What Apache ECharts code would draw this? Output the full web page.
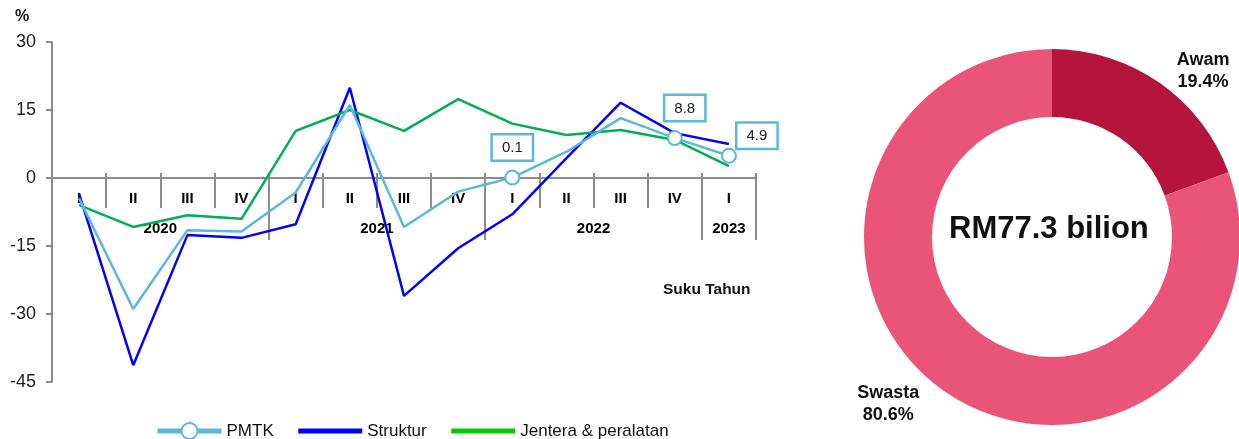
<!DOCTYPE html>
<html>
<head>
<meta charset="utf-8">
<script src="https://cdn.jsdelivr.net/npm/echarts@6/dist/echarts.min.js"></script>
<style>
  html, body { margin: 0; background: #fff; }
  #chart { width: 1239px; height: 439px; }
</style>
</head>
<body>
<div id="chart"></div>
<script>
// data
const quarters = ['I', 'II', 'III', 'IV', 'I', 'II', 'III', 'IV', 'I', 'II', 'III', 'IV', 'I']
const years = ['2020', '2021', '2022', '2023']
const yearQuarters = [4, 4, 4, 1] // how many quarters each year spans
const pmtk = [-4.5, -28.9, -11.5, -11.8, -3.2, 16.1, -10.8, -3.0, 0.1, 5.8, 13.2, 8.8, 4.9]
const struktur = [-3.5, -41.3, -12.6, -13.2, -10.2, 19.9, -26.0, -15.5, -8.0, 4.4, 16.6, 9.9, 7.5]
const jentera = [-6.0, -10.8, -8.2, -9.0, 10.4, 15.0, 10.4, 17.4, 12.0, 9.5, 10.6, 8.4, 2.6]
const labelledPoints = [8, 11, 12] // PMTK points with a boxed value
const yMin = -45
const yMax = 30
const yStep = 15
const shareNames = ['Awam', 'Swasta']
const shareValues = [19.4, 80.6]
const totalText = 'RM77.3 bilion'

const FONT = 'Liberation Sans, Arial, sans-serif'
const GREY = '#8c8c8c'
const LIGHT_BLUE = '#5ab9da'

// plot area of the line chart
const PLOT = { left: 52, right: 483, top: 42, bottom: 57 }
const plotH = 439 - PLOT.top - PLOT.bottom
const zeroY = PLOT.top + plotH * yMax / (yMax - yMin) // where the category axis sits

// year boundaries (quarter index where a year starts) and label positions
const yearStarts = []
const yearMids = []
let acc = 0
yearQuarters.forEach(n => {
  yearStarts.push(acc)
  yearMids.push(acc + n / 2)
  acc += n
})

const labelOffsets = { 8: [0, 0], 11: [10, 0], 12: [28, 10] }

const pmtkData = pmtk.map((v, i) => {
  if (!labelledPoints.includes(i)) return { value: v, symbol: 'none' }
  return {
    value: v,
    label: {
      show: true,
      position: 'top',
      distance: 10,
      offset: labelOffsets[i],
      formatter: '{c}',
      fontFamily: FONT,
      fontSize: 15,
      color: '#222',
      backgroundColor: '#fff',
      borderColor: LIGHT_BLUE,
      borderWidth: 2.5,
      padding: [5, 9, 4, 9],
    },
  }
})

const axisGrey = { color: GREY, width: 2 }

// the category axes live in a thin grid whose bottom edge is the zero line
const catAxis = (extra) => Object.assign({
  type: 'category',
  gridIndex: 1,
  data: quarters,
  position: 'bottom',
  boundaryGap: true,
  axisLine: { show: false, onZero: false },
  axisLabel: { show: false },
  splitLine: { show: false },
}, extra)

const option = {
  animation: false,
  textStyle: { fontFamily: FONT },
  title: [
    {
      text: 'Suku Tahun',
      left: 663,
      top: 282,
      padding: 0,
      textStyle: { fontFamily: FONT, fontSize: 15.5, fontWeight: 'bold', color: '#111' },
    },
    {
      text: totalText,
      left: 949,
      top: 214,
      padding: 0,
      textStyle: { fontFamily: FONT, fontSize: 31, fontWeight: 'bold', color: '#111' },
    },
  ],
  legend: {
    left: 150,
    top: 417,
    itemWidth: 64,
    itemHeight: 20,
    itemGap: 22,
    lineStyle: { width: 5 },
    textStyle: { fontFamily: FONT, fontSize: 17, color: '#111' },
    data: [
      { name: 'PMTK' },
      { name: 'Struktur', itemStyle: { opacity: 0 } },
      { name: 'Jentera & peralatan', itemStyle: { opacity: 0 }, lineStyle: { color: '#00cc00', width: 5 } },
    ],
  },
  grid: [
    PLOT,
    { left: PLOT.left, right: PLOT.right, top: zeroY - 10, bottom: 439 - zeroY },
  ],
  xAxis: [
    {
      // axis carrying the series (hidden, drawn by the axes below)
      type: 'category',
      gridIndex: 0,
      data: quarters,
      boundaryGap: true,
      show: false,
    },
    catAxis({
      axisLine: { show: true, onZero: false, lineStyle: axisGrey },
      axisTick: { show: true, interval: 0, length: 30, lineStyle: axisGrey },
      axisLabel: { show: true, interval: 0, margin: 13, fontFamily: FONT, fontSize: 15, fontWeight: 'bold', color: '#000' },
    }),
    catAxis({
      // long ticks marking the years
      axisTick: {
        show: true,
        length: 62,
        interval: (idx) => yearStarts.includes(idx),
        lineStyle: axisGrey,
      },
    }),
    catAxis({
      // small ticks poking above the zero line
      axisTick: { show: true, inside: true, interval: 0, length: 5, lineStyle: axisGrey },
    }),
    {
      // year names centred on their quarters
      type: 'value',
      gridIndex: 1,
      position: 'bottom',
      min: 0,
      max: quarters.length,
      interval: 0.5,
      axisLine: { show: false, onZero: false },
      axisTick: { show: false },
      splitLine: { show: false },
      axisLabel: {
        margin: 43,
        fontFamily: FONT,
        fontSize: 15,
        fontWeight: 'bold',
        color: '#000',
        formatter: (v) => {
          const k = yearMids.indexOf(v)
          return k >= 0 ? years[k] : ''
        },
      },
    },
  ],
  yAxis: [
    {
      type: 'value',
      gridIndex: 0,
      min: yMin,
      max: yMax,
      interval: yStep,
      name: '%',
      nameLocation: 'end',
      nameGap: 17,
      nameTextStyle: { fontFamily: FONT, fontSize: 16, fontWeight: 'bold', color: '#111', padding: [0, 60, 0, 0] },
      axisLine: { show: true, onZero: false, lineStyle: axisGrey },
      axisTick: { show: true, length: 6, lineStyle: axisGrey },
      axisLabel: { margin: 16, fontFamily: FONT, fontSize: 18, color: '#222' },
      splitLine: { show: false },
    },
    {
      type: 'value',
      gridIndex: 1,
      min: 0,
      max: 1,
      show: false,
      splitLine: { show: false },
    },
  ],
  series: [
    {
      name: 'PMTK',
      type: 'line',
      xAxisIndex: 0,
      yAxisIndex: 0,
      data: pmtkData,
      symbol: 'emptyCircle',
      symbolSize: 14,
      showSymbol: true,
      color: LIGHT_BLUE,
      lineStyle: { width: 2.5, color: LIGHT_BLUE },
      itemStyle: { color: LIGHT_BLUE, borderWidth: 2.5 },
      z: 3,
    },
    {
      name: 'Struktur',
      type: 'line',
      xAxisIndex: 0,
      yAxisIndex: 0,
      data: struktur,
      symbol: 'none',
      color: '#0000ff',
      lineStyle: { width: 2.5, color: '#0000ff' },
      z: 2,
    },
    {
      name: 'Jentera & peralatan',
      type: 'line',
      xAxisIndex: 0,
      yAxisIndex: 0,
      data: jentera,
      symbol: 'none',
      color: '#00b050',
      lineStyle: { width: 2.5, color: '#00b050' },
      z: 2,
    },
    {
      name: 'Pelaburan',
      type: 'pie',
      center: [1052, 237],
      radius: [120, 188],
      startAngle: 90,
      clockwise: true,
      silent: true,
      data: shareNames.map((n, i) => ({
        name: n,
        value: shareValues[i],
        itemStyle: { color: i === 0 ? '#b5153d' : '#ea5478' },
        labelLine: i === 0 ? { length: 15, length2: 4 } : { length: 16, length2: 11 },
      })),
      label: {
        show: true,
        position: 'outside',
        overflow: 'none',
        edgeDistance: 0,
        fontFamily: FONT,
        fontSize: 18,
        fontWeight: 'bold',
        color: '#111',
        lineHeight: 22,
        formatter: (p) => '{t|' + p.name + '}\n{t|' + p.value.toFixed(1) + '%}',
        rich: {
          t: { align: 'center', fontFamily: FONT, fontSize: 18, fontWeight: 'bold', color: '#111', lineHeight: 22 },
        },
      },
      labelLine: { show: false },
      emphasis: { disabled: true },
    },
  ],
}

const chart = echarts.init(document.getElementById('chart'))
chart.setOption(option)
</script>
</body>
</html>
